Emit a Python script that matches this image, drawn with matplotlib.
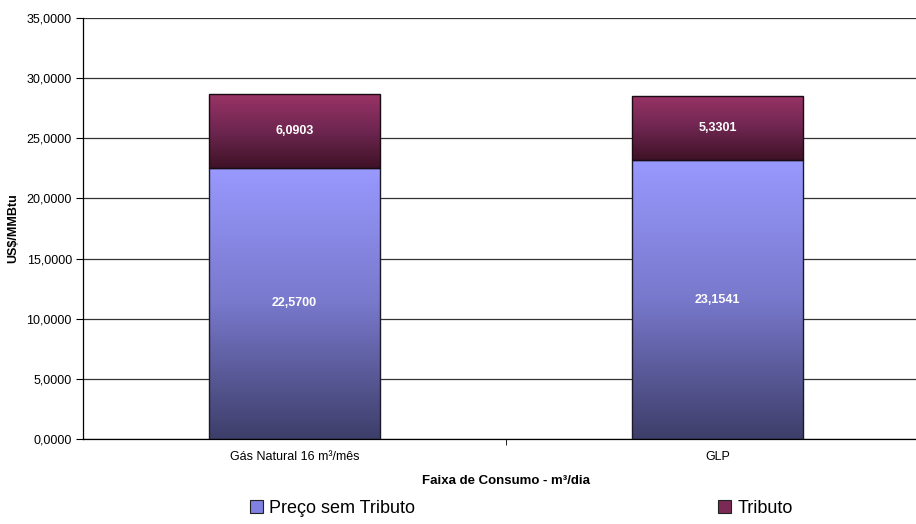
import matplotlib.pyplot as plt
import matplotlib.patches as mpatches
import numpy as np
from matplotlib.colors import LinearSegmentedColormap

plt.rcParams['font.family'] = ['Liberation Sans', 'DejaVu Sans']

categorias = ['Gás Natural 16 m³/mês', 'GLP']
preco_sem_tributo = [22.5700, 23.1541]
tributo = [6.0903, 5.3301]
series = ['Preço sem Tributo', 'Tributo']

# gradientes (cor de baixo -> cor de cima)
grad_preco = LinearSegmentedColormap.from_list('preco', ['#3e3e6a', '#7878cc', '#9999ff'])
grad_trib = LinearSegmentedColormap.from_list('trib', ['#3f1226', '#6e2650', '#993366'])


def fmt(v):
    return f'{v:.4f}'.replace('.', ',')


def pinta_gradiente(ax, barras, cmap):
    grad = np.linspace(0, 1, 256).reshape(-1, 1)
    for b in barras:
        x0, y0 = b.get_x(), b.get_y()
        x1, y1 = x0 + b.get_width(), y0 + b.get_height()
        im = ax.imshow(grad, cmap=cmap, origin='lower', aspect='auto',
                       extent=(x0, x1, y0, y1), zorder=2)
        im.set_clip_path(b)
        b.set_facecolor('none')


fig = plt.figure(figsize=(9.16, 5.24), dpi=100)
ax = fig.add_axes([83 / 916, 85 / 524, 846 / 916, 421 / 524])

x = np.arange(len(categorias))
larg = 0.404
b1 = ax.bar(x, preco_sem_tributo, larg, edgecolor='#1a1a2a', linewidth=1.0, zorder=3)
b2 = ax.bar(x, tributo, larg, bottom=preco_sem_tributo, edgecolor='#1a0a12',
            linewidth=1.0, zorder=3)
pinta_gradiente(ax, b1, grad_preco)
pinta_gradiente(ax, b2, grad_trib)

for i in range(len(categorias)):
    ax.text(x[i], preco_sem_tributo[i] / 2, fmt(preco_sem_tributo[i]), ha='center',
            va='center', color='white', fontsize=9, fontweight='bold', zorder=4)
    ax.text(x[i], preco_sem_tributo[i] + tributo[i] / 2, fmt(tributo[i]), ha='center',
            va='center', color='white', fontsize=9, fontweight='bold', zorder=4)

ax.set_xlim(-0.5, 1.5)
ax.set_ylim(0, 35)
ax.set_yticks(np.arange(0, 35.1, 5))
ax.set_yticklabels([fmt(v) for v in np.arange(0, 35.1, 5)], fontsize=9)
ax.set_xticks(x)
ax.set_xticklabels(categorias, fontsize=9)
ax.set_xticks([0.5], minor=True)
ax.tick_params(axis='x', which='major', length=0, pad=9)
ax.tick_params(axis='x', which='minor', length=4, direction='out')
ax.tick_params(axis='y', length=5, direction='out', width=0.8, pad=3)
ax.grid(axis='y', color='#333333', linewidth=0.9, zorder=0)
ax.set_axisbelow(True)
for s in ['top', 'right']:
    ax.spines[s].set_visible(False)
ax.spines['left'].set_linewidth(0.9)
ax.spines['bottom'].set_linewidth(0.9)

ax.set_ylabel('US$/MMBtu', fontsize=9, fontweight='bold', labelpad=5)
ax.set_xlabel('Faixa de Consumo - m³/dia', fontsize=9.5, fontweight='bold', labelpad=8)

h1 = mpatches.Patch(facecolor='#8080e0', edgecolor='#222222', linewidth=0.8)
h2 = mpatches.Patch(facecolor='#7a2a55', edgecolor='#222222', linewidth=0.8)
fig.legend([h1, h2], series, loc='center', bbox_to_anchor=(0.569, 0.03), ncol=2,
           frameon=False, fontsize=13, handlelength=0.7, handleheight=0.7,
           handletextpad=0.35, columnspacing=16.8, borderaxespad=0)

fig.savefig('out.png', dpi=100)
